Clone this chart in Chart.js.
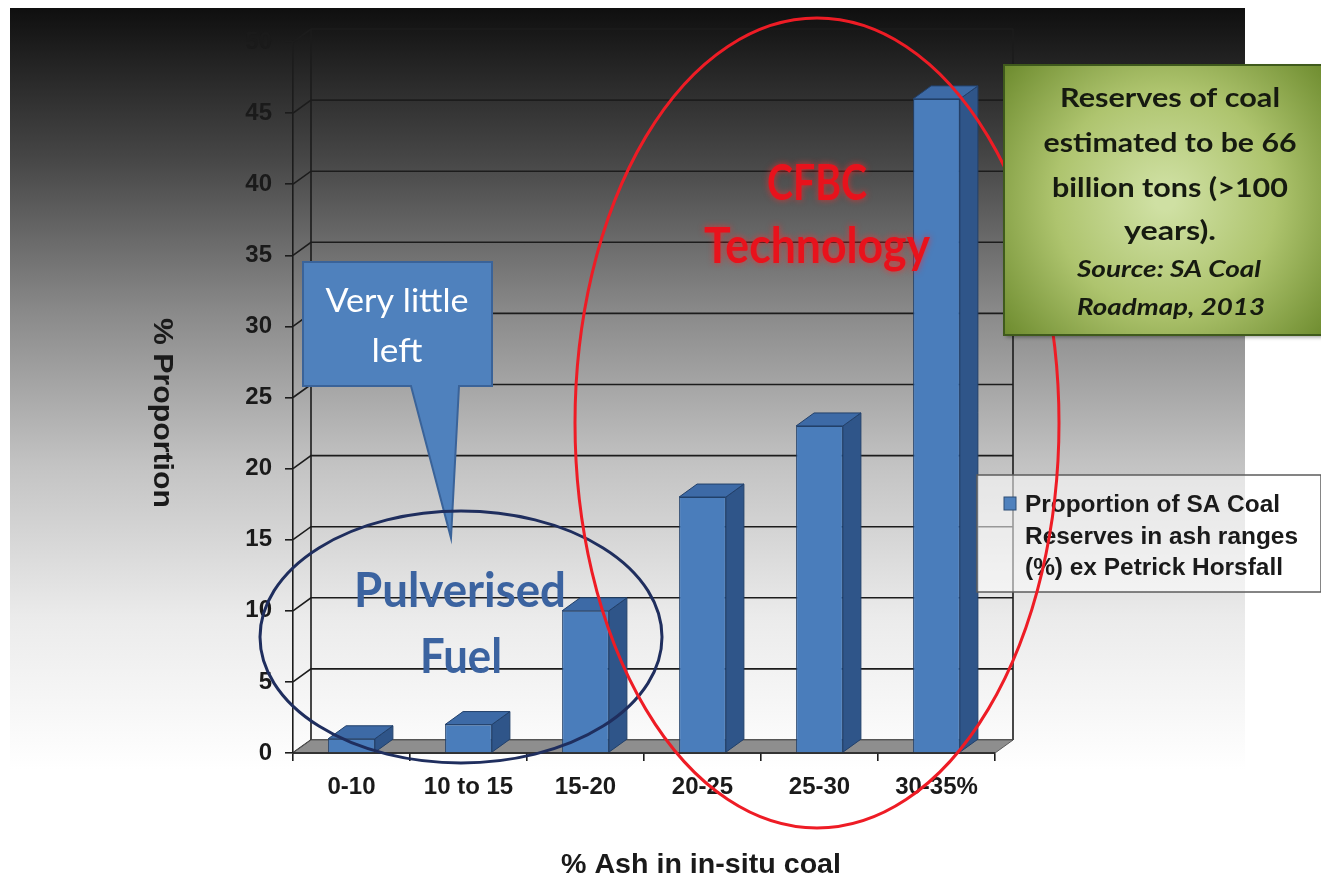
<!DOCTYPE html>
<html>
<head>
<meta charset="utf-8">
<script src="https://cdn.jsdelivr.net/npm/chart.js@4.4.1/dist/chart.umd.min.js"></script>
<style>
  body { margin: 0; background: #fff; }
  canvas { display: block; }
</style>
</head>
<body>
<canvas id="myChart" width="1321" height="881"></canvas>
<script>
// data
const categories = ['0-10', '10 to 15', '15-20', '20-25', '25-30', '30-35%'];
const proportion = [1, 2, 10, 18, 23, 46];
const yMin = 0;
const yMax = 50;
const yStep = 5;
const legendLines = ['Proportion of SA Coal', 'Reserves in ash ranges', '(%) ex Petrick Horsfall'];
const xTitle = '% Ash in in-situ coal';
const yTitle = '% Proportion';
const calloutLines = ['Very little', 'left'];
const pfLines = ['Pulverised', 'Fuel'];
const cfbcLines = ['CFBC', 'Technology'];
const noteLines = ['Reserves of coal', 'estimated to be 66', 'billion tons (>100', 'years).'];
const sourceLines = ['Source: SA Coal', 'Roadmap, 2013'];

// 3D depth of the wall and bars
const DX = 18, DY = 13;

let ctx = document.getElementById('myChart').getContext('2d');

// draws a line of text squeezed to a given width
function fitText(c, text, x, y, width, font, align) {
    c.save();
    c.font = font;
    const w = c.measureText(text).width;
    c.translate(x, y);
    c.scale(width / w, 1);
    c.textAlign = align || 'center';
    c.textBaseline = 'alphabetic';
    c.fillText(text, 0, 0);
    c.restore();
}

const backdrop = {
    id: 'backdrop',
    beforeDraw(chart) {
        const c = chart.ctx;
        c.save();
        c.fillStyle = '#fff';
        c.fillRect(0, 0, chart.width, chart.height);
        const g = c.createLinearGradient(0, 8, 0, 770);
        g.addColorStop(0, '#0f0f0f');
        g.addColorStop(0.2, '#474747');
        g.addColorStop(0.4, '#8a8a8a');
        g.addColorStop(0.6, '#c3c3c3');
        g.addColorStop(0.8, '#ebebeb');
        g.addColorStop(1, '#ffffff');
        c.fillStyle = g;
        c.fillRect(10, 8, 1235, 770);

        // axis titles
        c.fillStyle = '#1a1a1a';
        fitText(c, xTitle, 701, 873, 280, 'bold 27px "Liberation Sans"');
        c.translate(154, 413);
        c.rotate(Math.PI / 2);
        fitText(c, yTitle, 0, 0, 190, 'bold 27px "Liberation Sans"');
        c.restore();
    }
};

const wall = {
    id: 'wall',
    beforeDatasetsDraw(chart) {
        const c = chart.ctx;
        const a = chart.chartArea;
        const y = chart.scales.y;
        c.save();
        c.strokeStyle = '#1c1c1c';
        c.lineWidth = 1.6;
        // back wall grid and left wall slants
        for (let v = yMin; v <= yMax; v += yStep) {
            const py = y.getPixelForValue(v);
            c.beginPath();
            c.moveTo(a.left, py);
            c.lineTo(a.left + DX, py - DY);
            c.lineTo(a.right + DX, py - DY);
            c.stroke();
        }
        c.beginPath();
        c.moveTo(a.left + DX, a.top - DY);
        c.lineTo(a.left + DX, a.bottom - DY);
        c.moveTo(a.right + DX, a.top - DY);
        c.lineTo(a.right + DX, a.bottom - DY);
        c.stroke();
        // floor
        c.fillStyle = '#8e8e8e';
        c.beginPath();
        c.moveTo(a.left, a.bottom);
        c.lineTo(a.left + DX, a.bottom - DY);
        c.lineTo(a.right + DX, a.bottom - DY);
        c.lineTo(a.right, a.bottom);
        c.closePath();
        c.fill();
        c.strokeStyle = '#5a5a5a';
        c.lineWidth = 1;
        c.stroke();
        c.strokeStyle = '#1c1c1c';
        c.lineWidth = 1.6;
        c.beginPath();
        c.moveTo(a.left, a.bottom);
        c.lineTo(a.right, a.bottom);
        c.stroke();
        c.restore();
    },
    afterDatasetsDraw(chart) {
        const c = chart.ctx;
        const meta = chart.getDatasetMeta(0);
        c.save();
        c.lineWidth = 1;
        c.strokeStyle = '#22406a';
        meta.data.forEach(bar => {
            const l = bar.x - bar.width / 2, r = bar.x + bar.width / 2;
            // side
            c.fillStyle = '#2f5589';
            c.beginPath();
            c.moveTo(r, bar.y);
            c.lineTo(r + DX, bar.y - DY);
            c.lineTo(r + DX, bar.base - DY);
            c.lineTo(r, bar.base);
            c.closePath();
            c.fill();
            c.stroke();
            // top
            c.fillStyle = '#3d6aa6';
            c.beginPath();
            c.moveTo(l, bar.y);
            c.lineTo(l + DX, bar.y - DY);
            c.lineTo(r + DX, bar.y - DY);
            c.lineTo(r, bar.y);
            c.closePath();
            c.fill();
            c.stroke();
        });
        c.restore();
    }
};

const notes = {
    id: 'notes',
    afterDraw(chart) {
        const c = chart.ctx;
        c.save();

        // legend box
        c.fillStyle = 'rgba(255,255,255,0.55)';
        c.fillRect(977, 475, 344, 117);
        c.strokeStyle = '#5c5c5c';
        c.lineWidth = 1.5;
        c.strokeRect(977, 475, 344, 117);
        c.fillStyle = '#4f81bd';
        c.fillRect(1004, 497, 12, 13);
        c.strokeStyle = '#2c4d75';
        c.lineWidth = 1;
        c.strokeRect(1004, 497, 12, 13);
        c.fillStyle = '#1a1a1a';
        const lw = [255, 273, 258];
        legendLines.forEach((t, i) => {
            fitText(c, t, 1025, 512 + i * 31.5, lw[i], 'bold 23px "Liberation Sans"', 'left');
        });

        // callout
        c.beginPath();
        c.moveTo(303, 262);
        c.lineTo(492, 262);
        c.lineTo(492, 386);
        c.lineTo(459, 386);
        c.lineTo(451, 538);
        c.lineTo(411, 386);
        c.lineTo(303, 386);
        c.closePath();
        c.fillStyle = '#4f81bd';
        c.fill();
        c.strokeStyle = '#3a6399';
        c.lineWidth = 2;
        c.stroke();
        c.fillStyle = '#ffffff';
        fitText(c, calloutLines[0], 397, 312, 143, '32px Lato');
        fitText(c, calloutLines[1], 397, 362, 51, '32px Lato');

        // pulverised fuel ellipse
        c.strokeStyle = '#1f2e5e';
        c.lineWidth = 3;
        c.beginPath();
        c.ellipse(461, 637, 201, 126, 0, 0, Math.PI * 2);
        c.stroke();
        c.fillStyle = '#3b63a0';
        fitText(c, pfLines[0], 460, 607, 212, 'bold 48px Lato');
        fitText(c, pfLines[1], 461, 673, 82, 'bold 48px Lato');

        // CFBC text
        c.save();
        c.fillStyle = '#e8121c';
        c.shadowColor = 'rgba(255,40,40,0.7)';
        c.shadowBlur = 6;
        fitText(c, cfbcLines[0], 817, 200, 100, 'bold 50px Lato');
        fitText(c, cfbcLines[1], 817, 263, 226, 'bold 50px Lato');
        c.restore();

        // CFBC ellipse
        c.strokeStyle = '#ee1c25';
        c.lineWidth = 3;
        c.beginPath();
        c.ellipse(817, 423, 242, 405, 0, 0, Math.PI * 2);
        c.stroke();

        // green note
        const g = c.createRadialGradient(1165, 200, 10, 1165, 200, 210);
        g.addColorStop(0, '#cfe0a3');
        g.addColorStop(0.5, '#aec46e');
        g.addColorStop(1, '#6d8b2e');
        c.save();
        c.shadowColor = 'rgba(0,0,0,0.4)';
        c.shadowBlur = 4;
        c.shadowOffsetX = 2;
        c.shadowOffsetY = 2;
        c.fillStyle = g;
        c.fillRect(1004, 65, 320, 270);
        c.restore();
        c.strokeStyle = '#3f5a1c';
        c.lineWidth = 2;
        c.strokeRect(1004, 65, 320, 270);
        c.fillStyle = '#161a10';
        const nw = [220, 253, 236, 92];
        const nb = [107, 152, 197, 240];
        noteLines.forEach((t, i) => fitText(c, t, 1170, nb[i], nw[i], 'bold 26px Lato'));
        fitText(c, sourceLines[0], 1169, 277, 184, 'italic bold 23px Lato');
        fitText(c, sourceLines[1], 1171, 315, 188, 'italic bold 23px Lato');

        c.restore();
    }
};

const tickFont = { family: 'Liberation Sans', weight: 'bold', size: 24 };

let myChart = new Chart(ctx, {
    type: 'bar',
    data: {
        labels: categories,
        datasets: [{
            label: legendLines.join(' '),
            data: proportion,
            backgroundColor: '#4a7dbb',
            borderColor: '#22406a',
            borderWidth: 1,
            barPercentage: 0.4,
            categoryPercentage: 1
        }]
    },
    options: {
        responsive: false,
        animation: false,
        layout: { padding: { left: 0, right: 326, top: 42, bottom: 0 } },
        plugins: {
            legend: { display: false },
            tooltip: { enabled: false }
        },
        scales: {
            x: {
                grid: { drawOnChartArea: false, tickLength: 8, color: '#1c1c1c', lineWidth: 1.6 },
                border: { color: '#1c1c1c', width: 1.6 },
                ticks: { color: '#1a1a1a', font: tickFont, padding: 12, maxRotation: 0 },
                afterFit: s => { s.height = 128; }
            },
            y: {
                min: yMin,
                max: yMax,
                grid: { drawOnChartArea: false, tickLength: 8, color: '#1c1c1c', lineWidth: 1.6 },
                border: { color: '#1c1c1c', width: 1.6 },
                ticks: { stepSize: yStep, color: '#1a1a1a', font: tickFont, padding: 13 },
                afterFit: s => { s.width = 293; }
            }
        }
    },
    plugins: [backdrop, wall, notes]
});
</script>
</body>
</html>
